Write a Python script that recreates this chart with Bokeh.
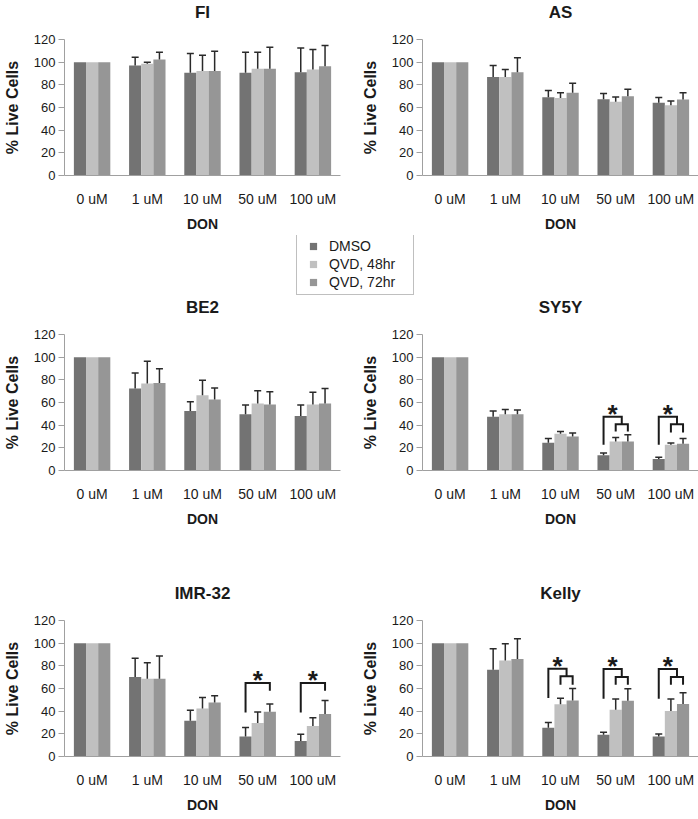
from bokeh.plotting import figure
from bokeh.models import (FactorRange, Range1d, FixedTicker, ColumnDataSource,
                          Legend, LegendItem, Title)
from bokeh.transform import dodge
from bokeh.layouts import column, row
from bokeh.embed import file_html
from bokeh.resources import INLINE
from bokeh.core.properties import value

# ---------------- data ----------------
doses = ["0 uM", "1 uM", "10 uM", "50 uM", "100 uM"]
series = ["DMSO", "QVD, 48hr", "QVD, 72hr"]
y_ticks = [0, 20, 40, 60, 80, 100, 120]

fi_dmso = [100, 97.1, 90.6, 90.6, 91.2]
fi_dmso_sd = [0, 7.3, 17.0, 18.2, 21.4]
fi_q48 = [100, 98.5, 92.1, 94.2, 93.6]
fi_q48_sd = [0, 1.5, 14.0, 14.6, 17.5]
fi_q72 = [100, 102.3, 92.1, 94.2, 96.5]
fi_q72_sd = [0, 6.5, 17.5, 19.0, 18.1]

as_dmso = [100, 87.0, 69.0, 67.3, 64.3]
as_dmso_sd = [0, 10.0, 6.0, 5.0, 4.5]
as_q48 = [100, 87.0, 68.4, 65.0, 62.0]
as_q48_sd = [0, 6.6, 4.6, 4.3, 3.8]
as_q72 = [100, 91.0, 73.0, 70.0, 67.0]
as_q72_sd = [0, 13.0, 8.3, 6.0, 6.0]

be2_dmso = [100, 72.3, 52.5, 49.6, 48.1]
be2_dmso_sd = [0, 13.7, 8.1, 8.1, 9.6]
be2_q48 = [100, 76.7, 66.5, 59.2, 58.3]
be2_q48_sd = [0, 19.8, 13.1, 11.1, 10.8]
be2_q72 = [100, 77.3, 62.7, 58.3, 59.2]
be2_q72_sd = [0, 12.5, 10.2, 11.1, 13.1]

sy5y_dmso = [100, 47.5, 24.5, 13.4, 10.2]
sy5y_dmso_sd = [0, 5.0, 3.8, 2.1, 1.5]
sy5y_q48 = [100, 49.6, 32.4, 25.6, 22.7]
sy5y_q48_sd = [0, 4.3, 2.0, 3.6, 1.5]
sy5y_q72 = [100, 49.6, 30.0, 25.6, 23.6]
sy5y_q72_sd = [0, 3.8, 3.0, 5.9, 4.7]

imr_dmso = [100, 70.2, 31.6, 17.6, 13.6]
imr_dmso_sd = [0, 16.6, 9.3, 8.0, 6.0]
imr_q48 = [100, 68.7, 42.4, 29.6, 27.0]
imr_q48_sd = [0, 14.0, 9.6, 9.6, 7.2]
imr_q72 = [100, 68.7, 47.7, 39.5, 37.4]
imr_q72_sd = [0, 19.9, 5.8, 6.8, 12.0]

kelly_dmso = [100, 76.6, 25.4, 19.2, 17.7]
kelly_dmso_sd = [0, 18.4, 4.7, 2.3, 2.1]
kelly_q48 = [100, 84.8, 46.0, 41.3, 40.1]
kelly_q48_sd = [0, 14.6, 5.3, 9.4, 10.6]
kelly_q72 = [100, 86.0, 49.5, 49.2, 46.3]
kelly_q72_sd = [0, 17.8, 10.6, 10.6, 10.0]

# significance brackets (DMSO vs both QVD groups)
sy5y_sig_dose = ["50 uM", "100 uM"]
sy5y_sig_top = [47.5, 47.5]
sy5y_sig_left = [22.7, 22.7]
sy5y_sig_mid = [40.9, 40.9]
sy5y_sig_inner = [34.4, 33.5]

imr_sig_dose = ["50 uM", "100 uM"]
imr_sig_top = [64.8, 64.8]
imr_sig_left = [38.9, 38.9]
imr_sig_right = [58.1, 58.1]

kelly_sig_dose = ["10 uM", "50 uM", "100 uM"]
kelly_sig_top = [77.5, 77.2, 77.2]
kelly_sig_left = [51.6, 51.0, 51.0]
kelly_sig_mid = [70.7, 70.1, 70.1]
kelly_sig_inner = [63.4, 63.4, 63.4]

# ---------------- style ----------------
FONT = "Liberation Sans"
COLORS = ["#737373", "#c0c0c0", "#969696"]
AXIS_COL = "#a0a0a0"
TEXT_COL = "#1a1a1a"
ERR_COL = "#2a2a2a"
BAR_W = 0.22
OFFS = [-0.22, 0.0, 0.22]
FRAME_H = 136
FRAME_W = 276
B_BOTTOM = 60


def make_panel(name, means, sds, left_col, border_top):
    p = figure(frame_width=FRAME_W, frame_height=FRAME_H,
               x_range=FactorRange(factors=doses, range_padding=0),
               y_range=Range1d(0, 120),
               output_backend="svg", toolbar_location=None,
               min_border_left=60 if left_col else 70,
               min_border_right=12 if left_col else 2,
               min_border_top=border_top, min_border_bottom=B_BOTTOM)
    # blank spacer title next to the frame, then the visible panel title
    p.add_layout(Title(text=" ", text_font_size="4px", text_color="white",
                       standoff=11), "above")
    p.add_layout(Title(text=name, align="center", text_font=FONT,
                       text_font_size="17px", text_font_style="bold",
                       text_color=TEXT_COL, standoff=0), "above")
    p.outline_line_color = None
    p.xgrid.visible = False
    p.ygrid.visible = False

    data = dict(dose=doses)
    for k in range(3):
        data[f"m{k}"] = means[k]
    src = ColumnDataSource(data)
    for k in range(3):
        p.vbar(x=dodge("dose", OFFS[k], range=p.x_range), top=f"m{k}",
               width=BAR_W, source=src, fill_color=COLORS[k], line_color=None)

    for k in range(3):
        ed, lo, hi = [], [], []
        for d, m, s in zip(doses, means[k], sds[k]):
            if s > 0:
                ed.append(d)
                lo.append(m)
                hi.append(m + s)
        esrc = ColumnDataSource(dict(dose=ed, lo=lo, hi=hi))
        xd = dodge("dose", OFFS[k], range=p.x_range)
        p.segment(x0=xd, y0="lo", x1=xd, y1="hi", source=esrc,
                  line_color=ERR_COL, line_width=1.5)
        p.scatter(x=xd, y="hi", source=esrc, marker="dash", size=7,
                  line_color=ERR_COL, line_width=1.5)

    p.yaxis.ticker = FixedTicker(ticks=y_ticks)
    for ax in (p.xaxis[0], p.yaxis[0]):
        ax.axis_line_color = AXIS_COL
        ax.major_tick_line_color = AXIS_COL
        ax.minor_tick_line_color = None
        ax.major_label_text_font = FONT
        ax.major_label_text_color = TEXT_COL
        ax.axis_label_text_font = FONT
        ax.axis_label_text_font_style = "bold"
        ax.axis_label_text_color = TEXT_COL
    p.xaxis.axis_label = "DON"
    p.xaxis.axis_label_text_font_size = "14px"
    p.xaxis.major_label_text_font_size = "14px"
    p.xaxis.major_tick_line_color = None
    p.xaxis.major_tick_out = 0
    p.xaxis.major_tick_in = 0
    p.xaxis.major_label_standoff = 15
    p.xaxis.axis_label_standoff = 6
    p.yaxis.axis_label = "% Live Cells"
    p.yaxis.axis_label_text_font_size = "16px"
    p.yaxis.major_label_text_font_size = "13px"
    p.yaxis.major_tick_out = 6
    p.yaxis.major_tick_in = 0
    p.yaxis.major_label_standoff = 3
    p.yaxis.axis_label_standoff = 10
    return p


def add_star(p, xs, ys):
    p.text(x=xs, y=ys, text=["*"] * len(xs), text_font=value(FONT),
           text_font_style="bold", text_font_size="26px", text_color=TEXT_COL,
           text_align="center", text_baseline="alphabetic", y_offset=-3)


def add_three_way(p, dose_list, tops, lefts, mids, inners):
    xs, ys, sx, sy = [], [], [], []
    for d, h1, l0, h2, l2 in zip(dose_list, tops, lefts, mids, inners):
        c = doses.index(d) + 0.5
        xd, x48, x72 = c + OFFS[0], c + OFFS[1], c + OFFS[2]
        xj = (x48 + x72) / 2
        xs += [[xd, xd, xj, xj], [x48, x48, x72, x72]]
        ys += [[l0, h1, h1, h2], [l2, h2, h2, l2]]
        sx.append((xd + xj) / 2)
        sy.append(h1)
    p.multi_line(xs=xs, ys=ys, line_color=TEXT_COL, line_width=2,
                 line_join="miter")
    add_star(p, sx, sy)


def add_two_way(p, dose_list, tops, lefts, rights):
    xs, ys, sx, sy = [], [], [], []
    for d, h1, l0, r in zip(dose_list, tops, lefts, rights):
        c = doses.index(d) + 0.5
        xd, x72 = c + OFFS[0], c + OFFS[2]
        xs.append([xd, xd, x72, x72])
        ys.append([l0, h1, h1, r])
        sx.append((xd + x72) / 2)
        sy.append(h1)
    p.multi_line(xs=xs, ys=ys, line_color=TEXT_COL, line_width=2,
                 line_join="miter")
    add_star(p, sx, sy)


T1, T2, T3 = 39, 39, 90
p_fi = make_panel("FI", [fi_dmso, fi_q48, fi_q72], [fi_dmso_sd, fi_q48_sd, fi_q72_sd], True, T1)
p_as = make_panel("AS", [as_dmso, as_q48, as_q72], [as_dmso_sd, as_q48_sd, as_q72_sd], False, T1)
p_be2 = make_panel("BE2", [be2_dmso, be2_q48, be2_q72], [be2_dmso_sd, be2_q48_sd, be2_q72_sd], True, T2)
p_sy = make_panel("SY5Y", [sy5y_dmso, sy5y_q48, sy5y_q72], [sy5y_dmso_sd, sy5y_q48_sd, sy5y_q72_sd], False, T2)
p_imr = make_panel("IMR-32", [imr_dmso, imr_q48, imr_q72], [imr_dmso_sd, imr_q48_sd, imr_q72_sd], True, T3)
p_kelly = make_panel("Kelly", [kelly_dmso, kelly_q48, kelly_q72], [kelly_dmso_sd, kelly_q48_sd, kelly_q72_sd], False, T3)

add_three_way(p_sy, sy5y_sig_dose, sy5y_sig_top, sy5y_sig_left, sy5y_sig_mid, sy5y_sig_inner)
add_two_way(p_imr, imr_sig_dose, imr_sig_top, imr_sig_left, imr_sig_right)
add_three_way(p_kelly, kelly_sig_dose, kelly_sig_top, kelly_sig_left, kelly_sig_mid, kelly_sig_inner)

# ---------------- legend strip ----------------
p_leg = figure(width=2 * (FRAME_W + 72), height=60, x_range=Range1d(0, 1), y_range=Range1d(0, 1),
               output_backend="svg", toolbar_location=None,
               min_border_left=0, min_border_right=0, min_border_top=0, min_border_bottom=0)
p_leg.axis.visible = False
p_leg.grid.visible = False
p_leg.outline_line_color = None
items = []
for k, s in enumerate(series):
    r = p_leg.scatter(x=[5], y=[5], marker="square", size=8,
                      fill_color=COLORS[k], line_color=None)
    items.append(LegendItem(label=s, renderers=[r]))
leg = Legend(items=items, location=(296, 0), border_line_color="#808080", border_line_width=1,
             background_fill_color="white", background_fill_alpha=1.0,
             label_text_font=FONT, label_text_font_size="14px", label_text_color=TEXT_COL,
             glyph_width=26, glyph_height=18, label_standoff=3, spacing=0, padding=3,
             margin=0, label_height=18, label_width=81)
p_leg.add_layout(leg, "center")

layout = column(row(p_fi, p_as), p_leg, row(p_be2, p_sy), row(p_imr, p_kelly))
open("out.html", "w").write(file_html(layout, INLINE))
